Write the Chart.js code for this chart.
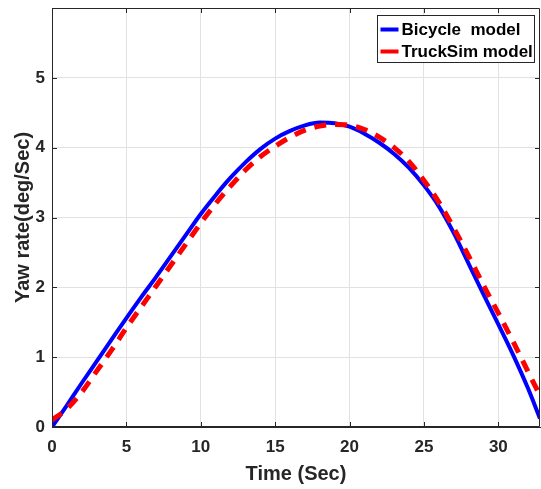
<!DOCTYPE html>
<html>
<head>
<meta charset="utf-8">
<script src="https://cdn.jsdelivr.net/npm/chart.js@4/dist/chart.umd.min.js"></script>
<style>
  html, body { margin: 0; padding: 0; background: #fff; }
  #wrap { width: 541px; height: 489px; position: relative; }
</style>
</head>
<body>
<div id="wrap"><canvas id="c"></canvas></div>
<script>
// Datos (tiempo en s, yaw rate en deg/s)
const timeSec = [0, 1, 2, 3, 4, 5, 6, 7, 8, 9, 10, 11, 12, 13, 14, 15, 16,
  17, 18, 19, 20, 21, 22, 23, 24, 25, 26, 27, 28, 29, 30, 31, 32, 32.8];
const bicycleYaw = [0, 0.31, 0.63, 0.94, 1.25, 1.56, 1.86, 2.15, 2.45, 2.75,
  3.05, 3.32, 3.57, 3.79, 3.98, 4.13, 4.24, 4.32, 4.36, 4.35, 4.3, 4.2, 4.07,
  3.91, 3.71, 3.46, 3.16, 2.78, 2.34, 1.9, 1.47, 1.03, 0.55, 0.12];
const truckSimYaw = [0.1, 0.26, 0.5, 0.8, 1.1, 1.42, 1.72, 2.02, 2.32, 2.62,
  2.92, 3.2, 3.45, 3.68, 3.87, 4.02, 4.15, 4.25, 4.31, 4.33, 4.32, 4.26, 4.15,
  4.0, 3.8, 3.53, 3.22, 2.85, 2.45, 2.03, 1.63, 1.22, 0.79, 0.45];
const seriesNames = ['Bicycle  model', 'TruckSim model'];
const xTicks = [0, 5, 10, 15, 20, 25, 30];
const yTicks = [0, 1, 2, 3, 4, 5];

const AXIS = '#262626';
const GRID = '#e2e2e2';
const FONT = '"Liberation Sans", Arial, sans-serif';

const toPoints = (ys) => ys.map((y, i) => ({ x: timeSec[i], y }));

// ejes tipo MATLAB: caja cerrada y ticks hacia dentro
const boxTicks = {
  id: 'boxTicks',
  afterDatasetsDraw(chart) {
    const { ctx, chartArea: a, scales: { x, y } } = chart;
    ctx.save();
    ctx.strokeStyle = AXIS;
    ctx.lineWidth = 1;
    ctx.beginPath();
    ctx.rect(a.left + 0.5, a.top + 0.5, a.right - a.left - 1, a.bottom - a.top - 1);
    const t = 5;
    xTicks.forEach(v => {
      const px = Math.round(x.getPixelForValue(v)) + 0.5;
      ctx.moveTo(px, a.bottom); ctx.lineTo(px, a.bottom - t);
      ctx.moveTo(px, a.top); ctx.lineTo(px, a.top + t);
    });
    yTicks.forEach(v => {
      const py = Math.round(y.getPixelForValue(v)) + 0.5;
      ctx.moveTo(a.left, py); ctx.lineTo(a.left + t, py);
      ctx.moveTo(a.right, py); ctx.lineTo(a.right - t, py);
    });
    ctx.stroke();
    ctx.restore();
  },
  afterDraw(chart) {
    // leyenda en la esquina superior derecha
    const { ctx } = chart;
    const ds = chart.data.datasets;
    const bx = 377.5, by = 15.5, bw = 157, bh = 47;
    ctx.save();
    ctx.fillStyle = '#fff';
    ctx.fillRect(bx, by, bw, bh);
    ctx.strokeStyle = AXIS;
    ctx.lineWidth = 1;
    ctx.strokeRect(bx, by, bw, bh);
    ctx.font = 'bold 17px ' + FONT;
    ctx.textBaseline = 'middle';
    ctx.fillStyle = '#000';
    ds.forEach((d, i) => {
      const yy = by + 14 + i * 22;
      ctx.strokeStyle = d.borderColor;
      ctx.lineWidth = 4;
      ctx.beginPath();
      ctx.moveTo(bx + 3, yy); ctx.lineTo(bx + 21, yy);
      ctx.stroke();
      ctx.fillText(d.label, bx + 24, yy + 1);
    });
    ctx.restore();
  },
};

new Chart(document.getElementById('c'), {
  type: 'line',
  data: {
    datasets: [
      {
        label: seriesNames[0],
        data: toPoints(bicycleYaw),
        borderColor: '#0000ff', borderWidth: 4,
        pointRadius: 0, cubicInterpolationMode: 'monotone',
        order: 2,
      },
      {
        label: seriesNames[1],
        data: toPoints(truckSimYaw),
        borderColor: '#ff0000', borderWidth: 5,
        borderDash: [12, 9], borderCapStyle: 'butt',
        pointRadius: 0, cubicInterpolationMode: 'monotone',
        order: 1,
      },
    ],
  },
  options: {
    responsive: true, maintainAspectRatio: false, animation: false,
    layout: { padding: { top: 8, right: 1, left: 0, bottom: 0 } },
    plugins: { legend: { display: false }, tooltip: { enabled: false } },
    scales: {
      x: {
        type: 'linear', min: 0, max: 32.8,
        afterFit: (s) => { s.height = 62; s.paddingLeft = 0; s.paddingRight = 0; },
        afterBuildTicks: (s) => { s.ticks = xTicks.map(v => ({ value: v })); },
        grid: { color: GRID, drawTicks: false },
        border: { color: AXIS },
        ticks: { color: AXIS, padding: 10, font: { family: FONT, size: 17, weight: 'bold' } },
        title: {
          display: true, text: 'Time (Sec)', color: AXIS,
          padding: { top: 0, bottom: 3 },
          font: { family: FONT, size: 20, weight: 'bold' },
        },
      },
      y: {
        min: 0, max: 6,
        afterFit: (s) => { s.width = 52; s.paddingTop = 0; s.paddingBottom = 0; },
        afterBuildTicks: (s) => { s.ticks = yTicks.map(v => ({ value: v })); },
        grid: { color: GRID, drawTicks: false },
        border: { color: AXIS },
        ticks: { color: AXIS, padding: 7, font: { family: FONT, size: 17, weight: 'bold' } },
        title: {
          display: true, text: 'Yaw rate(deg/Sec)', color: AXIS,
          padding: { top: 11, bottom: 0 },
          font: { family: FONT, size: 20, weight: 'bold' },
        },
      },
    },
  },
  plugins: [boxTicks],
});
</script>
</body>
</html>
